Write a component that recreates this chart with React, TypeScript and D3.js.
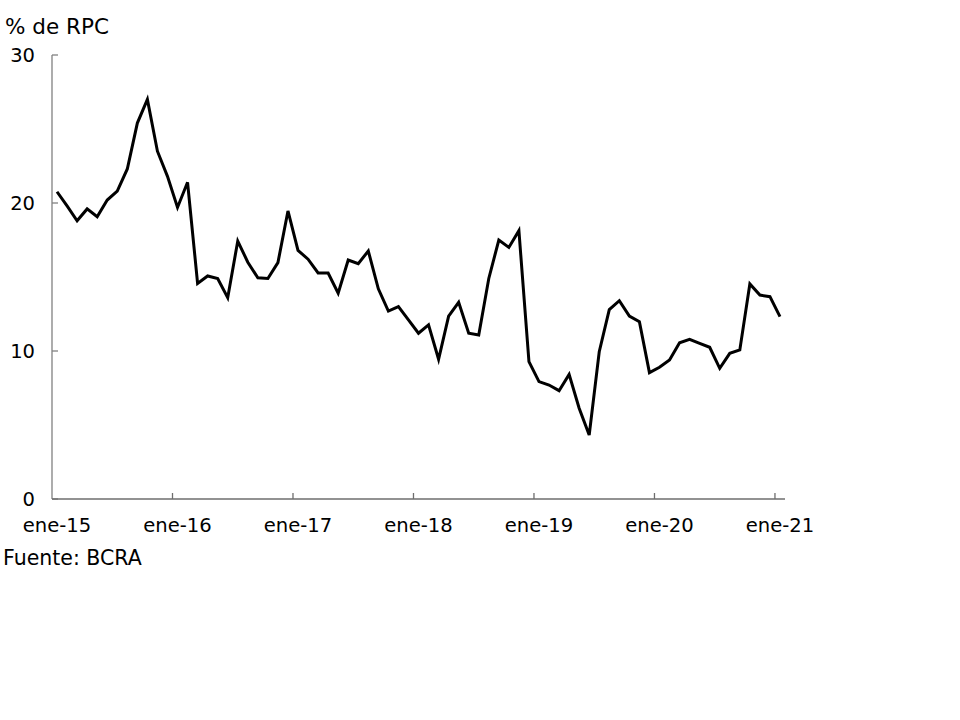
import React from "react";
import * as d3 from "d3";

const values: number[] = [
  20.76, 19.8, 18.8, 19.6, 19.07, 20.2, 20.8, 22.3, 25.4, 27.0, 23.5, 21.8,
  19.7, 21.4, 14.57, 15.07, 14.9, 13.6, 17.43, 16.0, 14.95, 14.9, 15.97, 19.46,
  16.8, 16.2, 15.27, 15.27, 13.9, 16.15, 15.9, 16.76, 14.2, 12.7, 13.0, 12.1,
  11.2, 11.76, 9.44, 12.36, 13.29, 11.2, 11.08, 14.9, 17.5, 17.0, 18.13, 9.28,
  7.93, 7.7, 7.32, 8.42, 6.13, 4.32, 9.95, 12.8, 13.4, 12.36, 11.98, 8.54,
  8.9, 9.39, 10.56, 10.79, 10.52, 10.25, 8.83, 9.84, 10.07, 14.53, 13.78, 13.67,
  12.32,
];
const yearLabels: string[] = ["ene-15", "ene-16", "ene-17", "ene-18", "ene-19", "ene-20", "ene-21"];
const yTicks: number[] = [0, 10, 20, 30];
const yTitle = "% de RPC";
const source = "Fuente: BCRA";

export default function App() {
  const W = 960, H = 720;
  const left = 52, right = 785, top = 55, bottom = 499;
  const n = values.length;
  const x = d3.scaleBand<number>().domain(d3.range(n)).range([left, right]);
  const y = d3.scaleLinear().domain([0, 30]).range([bottom, top]);
  const bw = x.bandwidth();
  const cx = (i: number) => (x(i) as number) + bw / 2;
  const line = d3.line<number>().x((_, i) => cx(i)).y((d) => y(d));
  const font = "'DejaVu Sans', Verdana, sans-serif";
  const boundaries = d3.range(12, n, 12);
  return (
    <svg width={W} height={H} style={{ position: "absolute", left: 0, top: 0 }} fontFamily={font}>
      <rect width={W} height={H} fill="#fff" />
      <text x={5} y={34} fontSize={21.5} fill="#000">{yTitle}</text>
      {/* y axis */}
      <line x1={left} x2={left} y1={top} y2={bottom} stroke="#808080" strokeWidth={1.3} />
      {yTicks.map((t) => (
        <g key={t}>
          <line x1={left} x2={left + 6} y1={y(t)} y2={y(t)} stroke="#808080" strokeWidth={1.3} />
          <text x={35} y={y(t) + 7} fontSize={19.5} textAnchor="end" fill="#000">{t}</text>
        </g>
      ))}
      {/* x axis */}
      <line x1={left} x2={right} y1={bottom} y2={bottom} stroke="#6e6e6e" strokeWidth={1.3} />
      {boundaries.map((i) => (
        <line key={i} x1={x(i) as number} x2={x(i) as number} y1={bottom} y2={bottom - 6} stroke="#6e6e6e" strokeWidth={1.3} />
      ))}
      {yearLabels.map((l, k) => (
        <text key={l} x={cx(k * 12)} y={532} fontSize={19.6} textAnchor="middle" fill="#000">{l}</text>
      ))}
      <path d={line(values) || ""} fill="none" stroke="#000" strokeWidth={3} strokeLinejoin="miter" />
      <text x={3} y={565} fontSize={20.5} fill="#000">{source}</text>
    </svg>
  );
}
